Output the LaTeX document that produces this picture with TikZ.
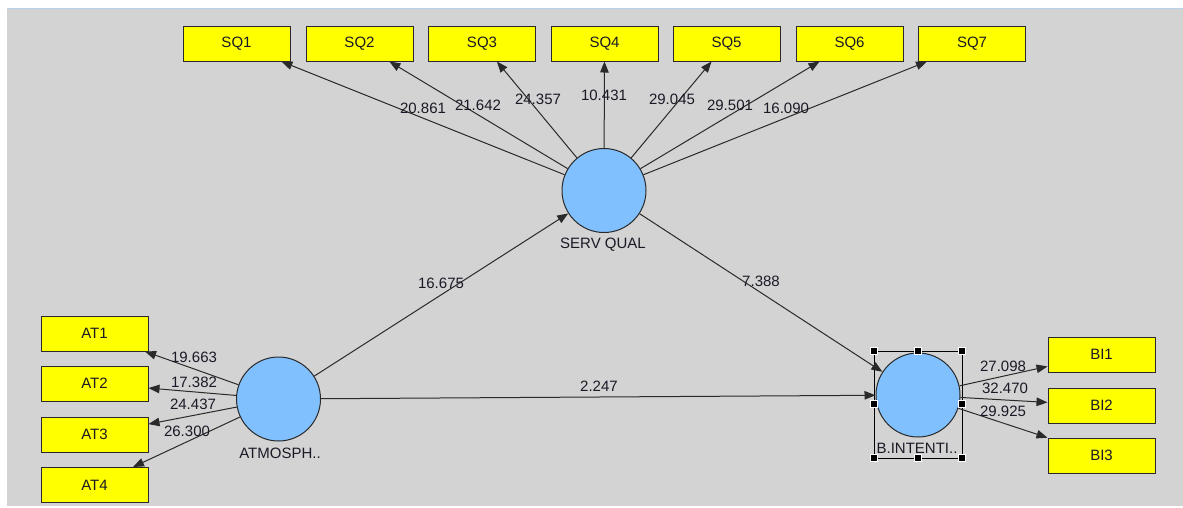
\documentclass[tikz,border=0pt]{standalone}
\usepackage{fontspec}
\setmainfont{Liberation Sans}
\usetikzlibrary{arrows.meta}
\definecolor{bg}{HTML}{D3D3D3}
\definecolor{lv}{HTML}{80C0FF}
\definecolor{edge}{HTML}{2A2A2A}
\definecolor{txt}{HTML}{1A1A26}
\definecolor{topline}{HTML}{B8D0EC}
\definecolor{yel}{HTML}{FFFF00}
\tikzset{
  ind/.style={rectangle, draw=edge, fill=yel, line width=1pt, minimum width=107pt, minimum height=35pt, inner sep=0pt, font=\fontsize{15}{17}\selectfont, text=txt},
  lat/.style={circle, draw=edge, fill=lv, line width=1pt, minimum size=84pt, inner sep=0pt},
  latlab/.style={font=\fontsize{15}{17}\selectfont, text=txt, inner sep=0pt},
  val/.style={font=\fontsize{15}{17}\selectfont, text=txt, inner sep=0pt},
  conn/.style={draw=edge, line width=1pt, -{Triangle[length=11pt,width=8.5pt]}},
  handle/.style={rectangle, fill=black, draw=white, line width=0.6pt, minimum size=7pt, inner sep=0pt}
}
\begin{document}
\begin{tikzpicture}[x=1pt,y=-1pt]
\useasboundingbox (0,0) rectangle (1183,507);
\fill[white] (0,0) rectangle (1183,507);
\fill[bg] (7,8) rectangle (1183,505.5);
\draw[topline, line width=1pt] (7,8) -- (1183,8);

% latent variables
\node[lat] (sv) at (604,190.5) {};
\node[lat] (at) at (278.5,399) {};
\node[lat] (bi) at (918,395) {};
\node[latlab] (svl) at (603,245) {SERV QUAL};
\node[latlab] (atl) at (280,453) {ATMOSPH..};
\node[latlab] (bil) at (917,448) {B.INTENTI..};

% selection frame around B.INTENTI
\draw[black, line width=0.8pt] (874,351) rectangle (962,458);
\foreach \hx/\hy [count=\k] in {874/351,918/351,962/351,874/404,962/404,874/458,918/458,962/458}
  \node[handle] (h\k) at (\hx,\hy) {};

% indicators
\node[ind] (sq1) at (236.5,43.5) {SQ1};
\node[ind] (sq2) at (359.5,43.5) {SQ2};
\node[ind] (sq3) at (482,43.5) {SQ3};
\node[ind] (sq4) at (604.5,43.5) {SQ4};
\node[ind] (sq5) at (726.5,43.5) {SQ5};
\node[ind] (sq6) at (849.5,43.5) {SQ6};
\node[ind] (sq7) at (972,43.5) {SQ7};
\node[ind] (at1) at (94.5,333.5) {AT1};
\node[ind] (at2) at (94.5,383.5) {AT2};
\node[ind] (at3) at (94.5,434.5) {AT3};
\node[ind] (at4) at (94.5,485) {AT4};
\node[ind] (bi1) at (1101.5,354.5) {BI1};
\node[ind] (bi2) at (1101.5,405.5) {BI2};
\node[ind] (bi3) at (1101.5,455.5) {BI3};

% connectors
\foreach \t in {sq1,sq2,sq3,sq4,sq5,sq6,sq7} \draw[conn] (sv) -- (\t);
\foreach \t in {at1,at2,at3,at4} \draw[conn] (at) -- (\t);
\foreach \t in {bi1,bi2,bi3} \draw[conn] (bi) -- (\t);
\draw[conn] (at) -- (sv);
\draw[conn] (sv) -- (bi);
\draw[conn] (at) -- (bi);

% values
\node[val] (v1) at (423,108) {20.861};
\node[val] (v2) at (478,105) {21.642};
\node[val] (v3) at (538,99) {24.357};
\node[val] (v4) at (604,95) {10.431};
\node[val] (v5) at (672,99) {29.045};
\node[val] (v6) at (730,105) {29.501};
\node[val] (v7) at (786,108) {16.090};
\node[val] (v8) at (441,283) {16.675};
\node[val] (v9) at (761,281) {7.388};
\node[val] (v10) at (599,386) {2.247};
\node[val] (v11) at (194,357) {19.663};
\node[val] (v12) at (194,382) {17.382};
\node[val] (v13) at (193,404) {24.437};
\node[val] (v14) at (187,431) {26.300};
\node[val] (v15) at (1003,366) {27.098};
\node[val] (v16) at (1005,388) {32.470};
\node[val] (v17) at (1003,411) {29.925};
\end{tikzpicture}
\end{document}
